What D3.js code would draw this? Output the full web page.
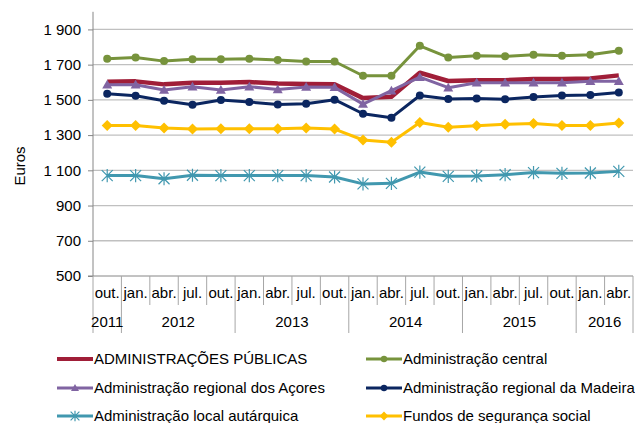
<!DOCTYPE html>
<html><head><meta charset="utf-8">
<script src="https://cdn.jsdelivr.net/npm/d3@7"></script>
<style>body{margin:0;background:#fff}svg{display:block;font-family:"Liberation Sans",Arial,sans-serif}</style>
</head><body><svg id="c" width="635" height="423"></svg>
<script>
const months = ["out.","jan.","abr.","jul.","out.","jan.","abr.","jul.","out.","jan.","abr.","jul.","out.","jan.","abr.","jul.","out.","jan.","abr."];
const yearLabels = ["2011","2012","2013","2014","2015","2016"];
const yearCounts = [1,4,4,4,4,2];
const yTicks = [500,700,900,1100,1300,1500,1700,1900];
const yTickLabels = ["500","700","900","1 100","1 300","1 500","1 700","1 900"];

const seriesNames = ["ADMINISTRAÇÕES PÚBLICAS","Administração central","Administração regional dos Açores","Administração regional da Madeira","Administração local autárquica","Fundos de segurança social"];
const adminPublicas = [1603,1605,1588,1597,1597,1601,1593,1590,1588,1510,1518,1654,1607,1612,1612,1618,1618,1622,1639];
const adminCentral = [1733,1741,1720,1730,1730,1733,1726,1718,1718,1637,1637,1807,1741,1751,1747,1756,1751,1756,1779];
const acores = [1586,1586,1556,1575,1556,1575,1559,1573,1571,1476,1552,1629,1569,1597,1597,1597,1597,1605,1605];
const madeira = [1535,1523,1495,1472,1499,1488,1474,1478,1501,1421,1399,1525,1505,1508,1503,1516,1525,1527,1542];
const localAut = [1070,1070,1052,1072,1070,1070,1070,1070,1062,1023,1026,1090,1066,1068,1075,1087,1083,1085,1094];
const fundos = [1355,1355,1340,1334,1336,1336,1336,1340,1334,1272,1259,1372,1344,1353,1361,1366,1355,1355,1368];

const seriesValues = [adminPublicas, adminCentral, acores, madeira, localAut, fundos];
const colors = ["#A01E38","#77933C","#8064A2","#0B2660","#4198AF","#FFC000"];
const markers = ["none","circle","triangle","circle","asterisk","diamond"];
const widths = [4.5,3,3,3,3,3];

const svg = d3.select("#c");
const FS = 15;
const L = 93, R = 633, T = 11.8, B = 276;
const idx = d3.range(months.length);
const x = d3.scaleBand().domain(idx).range([L, R]).paddingInner(0).paddingOuter(0);
const y = d3.scaleLinear().domain([500, 2000]).range([B, T]);
const cx = i => x(i) + x.bandwidth()/2;

// gridlines
svg.append("g").selectAll("line").data(yTicks.slice(1)).join("line")
  .attr("x1", L).attr("x2", R).attr("y1", d => y(d)).attr("y2", d => y(d))
  .attr("stroke", "#C0C0C0").attr("stroke-width", 1.3);

// y axis
const yAxis = d3.axisLeft(y).tickValues(yTicks).tickSize(5).tickPadding(7)
  .tickFormat((d,i) => yTickLabels[i]);
const ga = svg.append("g").attr("transform", `translate(${L},0)`).call(yAxis);
ga.select(".domain").attr("stroke", "#868686").attr("d", `M-5,${B}H0V${T}`);
ga.selectAll(".tick line").attr("stroke", "#868686");
ga.selectAll(".tick text").attr("font-size", FS).attr("fill", "#000").attr("font-family", '"Liberation Sans",Arial,sans-serif');

svg.append("text").attr("transform", "translate(25,166) rotate(-90)")
  .attr("text-anchor", "middle").attr("font-size", FS).text("Euros");

// x axis
const gx = svg.append("g");
gx.append("line").attr("x1", L).attr("x2", R).attr("y1", B).attr("y2", B).attr("stroke", "#868686");
const starts = [0];
yearCounts.forEach((c,i) => starts.push(starts[i] + c));
const yearBoundaries = new Set(starts);
const boundaries = d3.range(months.length + 1);
gx.selectAll("line.sep").data(boundaries).join("line").attr("class","sep")
  .attr("x1", d => d < months.length ? x(d) : R).attr("x2", d => d < months.length ? x(d) : R)
  .attr("y1", B).attr("y2", d => yearBoundaries.has(d) ? 333 : 305)
  .attr("stroke", "#A6A6A6");
gx.selectAll("text.m").data(months).join("text").attr("class","m")
  .attr("x", (d,i) => cx(i)).attr("y", 298).attr("text-anchor","middle").attr("font-size", FS).text(d => d);
gx.selectAll("text.yr").data(yearLabels).join("text").attr("class","yr")
  .attr("x", (d,i) => (x(starts[i]) + (starts[i+1] < months.length ? x(starts[i+1]) : R)) / 2)
  .attr("y", 327).attr("text-anchor","middle").attr("font-size", FS).text(d => d);

// marker drawing
function drawMarker(g, type, color, px, py, scale=1) {
  if (type === "circle") {
    g.append("circle").attr("cx", px).attr("cy", py).attr("r", 4*scale).attr("fill", color);
  } else if (type === "triangle") {
    const s = 5*scale;
    g.append("path").attr("d", `M${px},${py-s}L${px+s},${py+s*0.75}L${px-s},${py+s*0.75}Z`).attr("fill", color);
  } else if (type === "diamond") {
    const s = 5.5*scale;
    g.append("path").attr("d", `M${px},${py-s}L${px+s},${py}L${px},${py+s}L${px-s},${py}Z`).attr("fill", color);
  } else if (type === "asterisk") {
    const s = 5.5*scale;
    g.append("path").attr("d", `M${px-s},${py-s}L${px+s},${py+s}M${px-s},${py+s}L${px+s},${py-s}M${px},${py-s*1.2}L${px},${py+s*1.2}`)
      .attr("stroke", color).attr("stroke-width", 1.2).attr("fill", "none");
  }
}

const line = d3.line().x((d,i) => cx(i)).y(d => y(d));
seriesValues.forEach((vals, s) => {
  const g = svg.append("g");
  g.append("path").datum(vals).attr("d", line).attr("fill","none")
    .attr("stroke", colors[s]).attr("stroke-width", widths[s]).attr("stroke-linejoin","round");
  vals.forEach((v,i) => drawMarker(g, markers[s], colors[s], cx(i), y(v)));
});

// legend
const legX = [57, 366], legY = [359, 388, 416];
seriesNames.forEach((name, s) => {
  const col = s % 2, row = Math.floor(s / 2);
  const g = svg.append("g");
  const x0 = legX[col], yy = legY[row];
  g.append("line").attr("x1", x0).attr("x2", x0 + 36).attr("y1", yy).attr("y2", yy)
    .attr("stroke", colors[s]).attr("stroke-width", s === 0 ? 4 : 3);
  drawMarker(g, markers[s], colors[s], x0 + 18, yy, 0.8);
  g.append("text").attr("x", x0 + 37).attr("y", yy + 5.3).attr("font-size", FS).text(name);
});
</script></body></html>
